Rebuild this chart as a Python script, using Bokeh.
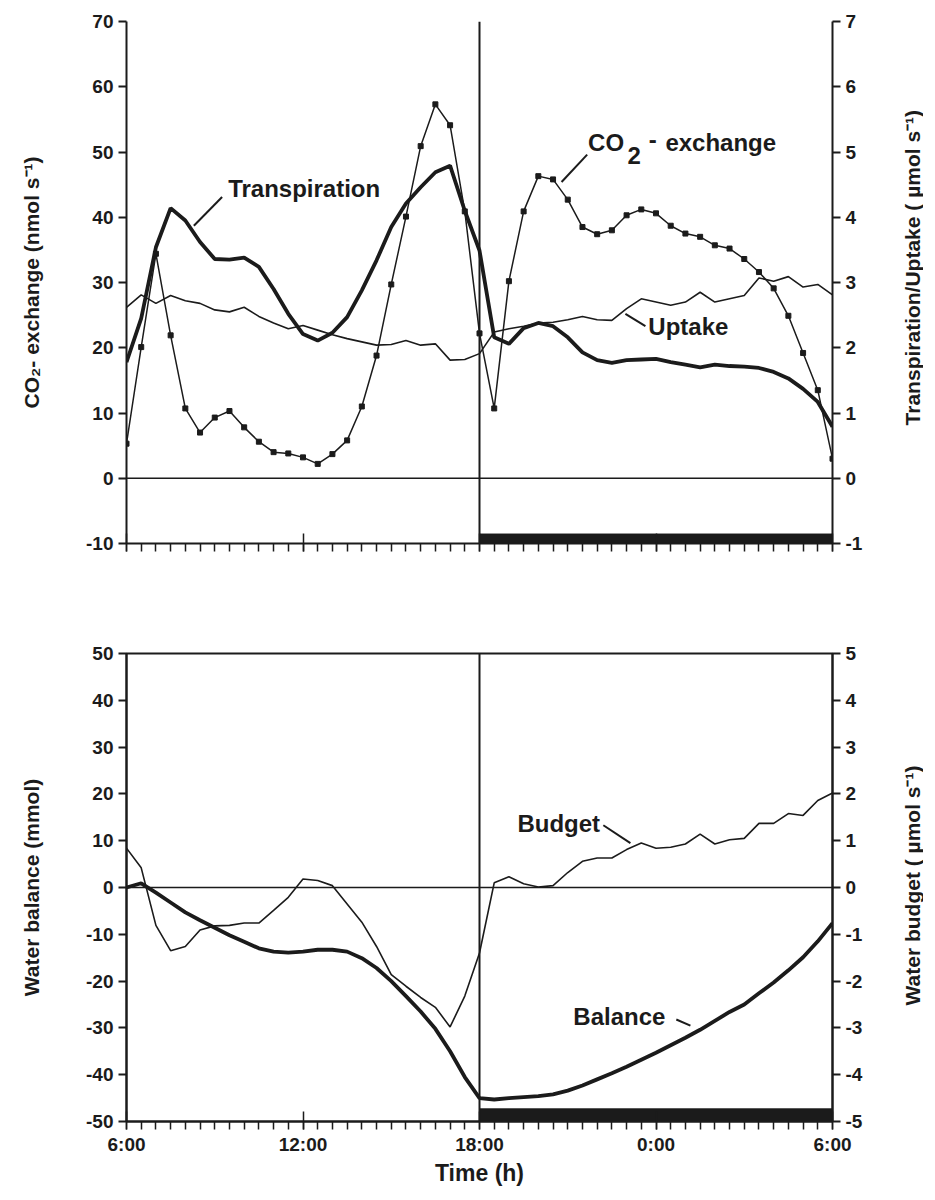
import math
from bokeh.plotting import figure
from bokeh.layouts import column, row
from bokeh.models import Range1d, LinearAxis, FixedTicker, Span, Label
from bokeh.embed import file_html
from bokeh.resources import INLINE

# ---------------- data (hours after 6:00, half-hour steps) ----------------
hours = [0.0, 0.5, 1.0, 1.5, 2.0, 2.5, 3.0, 3.5, 4.0, 4.5, 5.0, 5.5, 6.0, 6.5,
         7.0, 7.5, 8.0, 8.5, 9.0, 9.5, 10.0, 10.5, 11.0, 11.5, 12.0, 12.5, 13.0,
         13.5, 14.0, 14.5, 15.0, 15.5, 16.0, 16.5, 17.0, 17.5, 18.0, 18.5, 19.0,
         19.5, 20.0, 20.5, 21.0, 21.5, 22.0, 22.5, 23.0, 23.5, 24.0]

co2_exchange = [5.3, 20.1, 34.4, 21.9, 10.7, 7.0, 9.3, 10.3, 7.8, 5.6, 4.0, 3.8,
                3.2, 2.2, 3.7, 5.8, 11.0, 18.8, 29.7, 40.1, 50.9, 57.3, 54.1, 40.9,
                22.2, 10.7, 30.2, 40.9, 46.3, 45.8, 42.7, 38.5, 37.4, 38.0, 40.3,
                41.2, 40.6, 38.7, 37.5, 37.0, 35.7, 35.2, 33.6, 31.6, 29.1, 24.9,
                19.2, 13.5, 3.0]

transpiration = [1.78, 2.45, 3.54, 4.14, 3.95, 3.62, 3.36, 3.35, 3.38, 3.24, 2.90,
                 2.52, 2.21, 2.11, 2.23, 2.47, 2.88, 3.34, 3.85, 4.21, 4.46, 4.69,
                 4.79, 4.10, 3.49, 2.16, 2.06, 2.30, 2.38, 2.33, 2.16, 1.93, 1.81,
                 1.77, 1.81, 1.82, 1.83, 1.78, 1.74, 1.70, 1.74, 1.72, 1.71, 1.69,
                 1.63, 1.53, 1.37, 1.17, 0.79]

uptake = [2.62, 2.81, 2.68, 2.80, 2.72, 2.68, 2.58, 2.55, 2.62, 2.48, 2.38, 2.29,
          2.34, 2.27, 2.20, 2.14, 2.09, 2.04, 2.05, 2.11, 2.04, 2.06, 1.81, 1.82,
          1.91, 2.24, 2.29, 2.33, 2.38, 2.39, 2.43, 2.48, 2.43, 2.42, 2.60, 2.75,
          2.70, 2.65, 2.70, 2.85, 2.70, 2.75, 2.80, 3.07, 3.02, 3.09, 2.93, 2.97,
          2.81]

balance = [0.0, 0.9, -1.1, -3.2, -5.3, -7.0, -8.6, -10.2, -11.6, -13.0, -13.7,
           -13.9, -13.7, -13.3, -13.3, -13.7, -15.1, -17.2, -20.0, -23.2, -26.5,
           -30.2, -35.0, -40.5, -45.0, -45.3, -45.0, -44.8, -44.6, -44.2, -43.4,
           -42.3, -41.0, -39.7, -38.3, -36.8, -35.3, -33.7, -32.1, -30.4, -28.5,
           -26.6, -25.0, -22.6, -20.3, -17.7, -14.9, -11.5, -7.6]

budget = [0.84, 0.42, -0.81, -1.35, -1.26, -0.91, -0.82, -0.81, -0.76, -0.76,
          -0.49, -0.21, 0.18, 0.15, 0.04, -0.35, -0.74, -1.26, -1.86, -2.11,
          -2.35, -2.56, -2.98, -2.32, -1.40, 0.10, 0.23, 0.08, 0.01, 0.04, 0.32,
          0.56, 0.63, 0.63, 0.81, 0.95, 0.84, 0.86, 0.93, 1.14, 0.93, 1.02, 1.05,
          1.37, 1.37, 1.58, 1.54, 1.86, 2.02]

time_ticks = [0, 6, 12, 18, 24]
time_labels = ["6:00", "12:00", "18:00", "0:00", "6:00"]
half_hours = hours
dark_period = [12, 24]          # 18:00 -> 6:00

co2_ticks = [-10, 0, 10, 20, 30, 40, 50, 60, 70]
flux_ticks = [-1, 0, 1, 2, 3, 4, 5, 6, 7]
balance_ticks = [-50, -40, -30, -20, -10, 0, 10, 20, 30, 40, 50]
budget_ticks = [-5, -4, -3, -2, -1, 0, 1, 2, 3, 4, 5]

# ---------------- style ----------------
FONT = "Liberation Sans"
INK = "#1b1b1b"
FRAME_L = 126
FRAME_W = 706
RIGHT_B = 60
W = FRAME_L + FRAME_W + RIGHT_B      # 892
STRIP_W = 31                         # narrow strip holding the right-hand titles
H1, H2 = 598, 590


def style_y(ax, ticks, title, standoff):
    ax.ticker = FixedTicker(ticks=ticks)
    ax.major_label_overrides = {t: str(t) for t in ticks}
    if title:
        ax.axis_label = title
        ax.axis_label_text_font = FONT
        ax.axis_label_text_font_style = "bold"
        ax.axis_label_text_font_size = "21px"
        ax.axis_label_text_color = INK
        ax.axis_label_standoff = standoff
    ax.major_label_text_font = FONT
    ax.major_label_text_font_style = "bold"
    ax.major_label_text_font_size = "19px"
    ax.major_label_text_color = INK
    ax.major_label_standoff = 5
    ax.axis_line_width = 2
    ax.axis_line_color = INK
    ax.major_tick_line_width = 2
    ax.major_tick_line_color = INK
    ax.major_tick_out = 8
    ax.major_tick_in = 0
    ax.minor_tick_line_color = None


def style_x(ax, show_labels):
    ax.ticker = FixedTicker(ticks=time_ticks, minor_ticks=half_hours)
    if show_labels:
        ax.major_label_overrides = {t: l for t, l in zip(time_ticks, time_labels)}
        ax.axis_label = "Time (h)"
        ax.axis_label_text_font = FONT
        ax.axis_label_text_font_style = "bold"
        ax.axis_label_text_font_size = "23px"
        ax.axis_label_text_color = INK
        ax.axis_label_standoff = 2
    else:
        ax.major_label_overrides = {t: "" for t in time_ticks}
    ax.major_label_text_font = FONT
    ax.major_label_text_font_style = "bold"
    ax.major_label_text_font_size = "19px"
    ax.major_label_text_color = INK
    ax.major_label_standoff = 4
    ax.axis_line_width = 2
    ax.axis_line_color = INK
    ax.major_tick_line_width = 1.5
    ax.major_tick_line_color = INK
    ax.major_tick_out = 8
    ax.major_tick_in = 10
    ax.minor_tick_line_width = 1.5
    ax.minor_tick_line_color = INK
    ax.minor_tick_out = 8
    ax.minor_tick_in = 0


def add_label(p, x, y, text, align="left", size="24px", angle=0.0):
    p.add_layout(Label(x=x, y=y, text=text, text_font=FONT, text_font_style="bold",
                       text_font_size=size, text_color=INK, text_align=align,
                       text_baseline="middle", angle=angle))


def title_strip(height, center_from_top, text):
    """Narrow figure carrying a right-hand title that reads bottom-to-top."""
    s = figure(width=STRIP_W, height=height, x_range=Range1d(0, STRIP_W),
               y_range=Range1d(0, height), output_backend="svg", toolbar_location=None,
               min_border=0, min_border_left=0, min_border_right=0,
               min_border_top=0, min_border_bottom=0)
    s.axis.visible = False
    s.grid.visible = False
    s.outline_line_color = None
    s.background_fill_color = "white"
    s.border_fill_color = "white"
    add_label(s, 20, height - center_from_top, text, align="center", size="21px",
              angle=math.pi / 2)
    return s


# ---------------- top panel ----------------
p1 = figure(width=W, height=H1, x_range=Range1d(0, 24), y_range=Range1d(-10, 70),
            output_backend="svg", toolbar_location=None,
            min_border_left=FRAME_L, min_border_right=RIGHT_B,
            min_border_top=21, min_border_bottom=55)
p1.extra_y_ranges = {"flux": Range1d(-1, 7)}
p1.grid.visible = False
p1.outline_line_color = None
p1.background_fill_color = "white"
p1.border_fill_color = "white"

style_x(p1.xaxis[0], False)
style_y(p1.yaxis[0], co2_ticks, "CO\u2082- exchange (nmol s\u207b\u00b9)", 40)
ax_r1 = LinearAxis(y_range_name="flux")
style_y(ax_r1, flux_ticks, None, 0)
p1.add_layout(ax_r1, "right")

p1.add_layout(Span(location=0, dimension="width", line_color=INK, line_width=1.5))
p1.add_layout(Span(location=dark_period[0], dimension="height", line_color=INK, line_width=2))
p1.quad(left=[dark_period[0]], right=[dark_period[1]], bottom=[-10], top=[-8.55],
        fill_color=INK, line_color=INK)

p1.line(hours, uptake, y_range_name="flux", line_color=INK, line_width=1.6)
p1.line(hours, transpiration, y_range_name="flux", line_color=INK, line_width=3.8)
p1.line(hours, co2_exchange, line_color=INK, line_width=1.5)
p1.scatter(hours, co2_exchange, marker="square", size=5, fill_color=INK, line_color=INK)

add_label(p1, 6.04, 44.4, "Transpiration", align="center")
p1.segment(x0=[3.25], y0=[43.1], x1=[2.29], y1=[38.7], line_color=INK, line_width=2)
add_label(p1, 15.69, 51.5, "CO")
add_label(p1, 17.03, 49.4, "2")
add_label(p1, 17.75, 51.9, "-")
add_label(p1, 18.32, 51.5, "exchange")
p1.segment(x0=[15.66], y0=[49.6], x1=[14.79], y1=[45.4], line_color=INK, line_width=2)
add_label(p1, 17.74, 23.3, "Uptake")
p1.segment(x0=[17.64], y0=[23.3], x1=[16.96], y1=[25.2], line_color=INK, line_width=2)

t1 = title_strip(H1, 21 + 522 / 2, "Transpiration/Uptake ( \u00b5mol s\u207b\u00b9)")

# ---------------- bottom panel ----------------
p2 = figure(width=W, height=H2, x_range=Range1d(0, 24), y_range=Range1d(-50, 50),
            output_backend="svg", toolbar_location=None,
            min_border_left=FRAME_L, min_border_right=RIGHT_B,
            min_border_top=55, min_border_bottom=60)
p2.extra_y_ranges = {"budget": Range1d(-5, 5)}
p2.grid.visible = False
p2.outline_line_color = INK
p2.outline_line_width = 2
p2.background_fill_color = "white"
p2.border_fill_color = "white"

style_x(p2.xaxis[0], True)
style_y(p2.yaxis[0], balance_ticks, "Water balance (mmol)", 40)
ax_r2 = LinearAxis(y_range_name="budget")
style_y(ax_r2, budget_ticks, None, 0)
p2.add_layout(ax_r2, "right")

p2.add_layout(Span(location=0, dimension="width", line_color=INK, line_width=1.5))
p2.add_layout(Span(location=dark_period[0], dimension="height", line_color=INK, line_width=2))
p2.quad(left=[dark_period[0]], right=[dark_period[1]], bottom=[-50], top=[-47.3],
        fill_color=INK, line_color=INK)

p2.line(hours, budget, y_range_name="budget", line_color=INK, line_width=1.6)
p2.line(hours, balance, line_color=INK, line_width=3.8)

add_label(p2, 13.29, 13.7, "Budget")
p2.segment(x0=[16.21], y0=[13.3], x1=[17.13], y1=[9.5], line_color=INK, line_width=2)
add_label(p2, 15.19, -27.6, "Balance")
p2.segment(x0=[18.69], y0=[-28.2], x1=[19.17], y1=[-29.5], line_color=INK, line_width=2)

t2 = title_strip(H2, 55 + 475 / 2, "Water budget ( \u00b5mol s\u207b\u00b9)")

layout = column(row(p1, t1, spacing=0), row(p2, t2, spacing=0), spacing=0)
open("out.html", "w").write(file_html(layout, INLINE))
